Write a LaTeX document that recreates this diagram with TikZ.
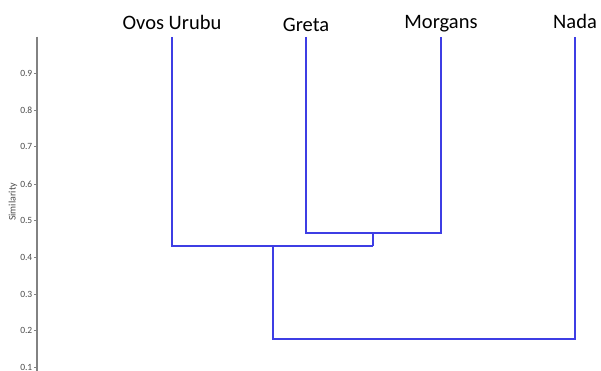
\documentclass[tikz,border=0pt]{standalone}
\usepackage{fontspec}
\setmainfont{Carlito}
\definecolor{dendro}{RGB}{62,62,228}
\definecolor{axisgray}{RGB}{130,130,130}
\definecolor{ticktext}{RGB}{75,75,75}
\begin{document}
\begin{tikzpicture}[x=1pt,y=-1pt,
  link/.style={draw=dendro,line width=2pt},
  leaf/.style={font=\fontsize{20.5}{21}\selectfont,text=black,inner sep=0pt,anchor=base},
  ticklab/.style={font=\fontsize{9.5}{9.5}\selectfont,text=ticktext,inner sep=0pt,anchor=east},
  axisline/.style={draw=axisgray,line width=1.3pt}]
\useasboundingbox (0,0) rectangle (601,371);
% axis
\coordinate (atop) at (37,36.7);
\coordinate (abot) at (37,371);
\draw[axisline] (atop) -- (abot);
\foreach \i/\v/\y in {9/0.9/73.3,8/0.8/110,7/0.7/146.7,6/0.6/184,5/0.5/220.7,4/0.4/257.3,3/0.3/294,2/0.2/330.7,1/0.1/367.3}{
  \coordinate (tick\i) at (37,\y);
  \draw[axisgray,line width=0.7pt] (tick\i) -- ++(-3.5,0);
  \node[ticklab] (lab\i) at (32.5,\y) {\v};
}
\node[font=\fontsize{10}{10}\selectfont,text=ticktext,rotate=90,inner sep=0pt] (ylab) at (13,202) {Similarity};
% leaves
\node[leaf] (ovos) at (172,29.5) {Ovos Urubu};
\node[leaf] (greta) at (306,32) {Greta};
\node[leaf] (morg) at (441,28.5) {Morgans};
\node[leaf] (nada) at (575,28.5) {Nada};
\coordinate (ovosT) at (172,37);
\coordinate (gretaT) at (306,37);
\coordinate (morgT) at (441,37);
\coordinate (nadaT) at (575,37);
% joins
\coordinate (gm) at (373,233);
\coordinate (ogm) at (273,246);
\coordinate (all) at (575,339);
\draw[link] (gretaT) |- (gm) -| (morgT);
\draw[link] (gm) -- (gm |- ogm);
\draw[link] (ovosT) |- (ogm) -| (gm |- ogm);
\draw[link] (ogm) |- (all) -- (nadaT);
\end{tikzpicture}
\end{document}
